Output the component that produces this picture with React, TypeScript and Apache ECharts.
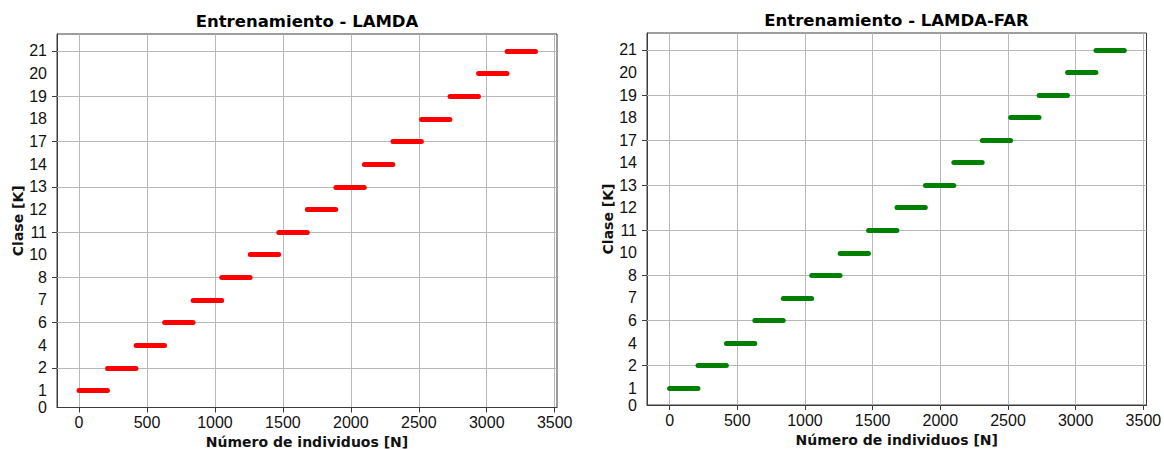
import { useEffect, useRef } from 'react';
import * as echarts from 'echarts';

// Class labels, bottom to top (one row each)
const classLabels = ['1', '2', '4', '6', '7', '8', '10', '11', '12', '13', '14', '17', '18', '19', '20', '21'];
// Label shown at the bottom edge of the class axis
const bottomLabel = '0';
// Classes whose rows carry a grid line and a tick
const gridClasses = ['2', '6', '8', '11', '13', '17', '19', '21'];
// First and last sample index of each class block
const segStart = [0, 210, 420, 630, 840, 1050, 1260, 1470, 1680, 1890, 2100, 2310, 2520, 2730, 2940, 3150];
const segEnd = [209, 419, 629, 839, 1049, 1259, 1469, 1679, 1889, 2099, 2309, 2519, 2729, 2939, 3149, 3359];
// Sample-axis ticks
const xTicks = [0, 500, 1000, 1500, 2000, 2500, 3000, 3500];

const panels = [
  {
    title: 'Entrenamiento - LAMDA',
    color: '#ff0000',
    grid: { left: 57, top: 34, width: 500, height: 373.5 },
    xMin: -162,
    xMax: 3517,
    titleX: 307,
    titleY: 21,
  },
  {
    title: 'Entrenamiento - LAMDA-FAR',
    color: '#008000',
    grid: { left: 647, top: 33, width: 499.5, height: 372 },
    xMin: -167,
    xMax: 3523,
    titleX: 896.5,
    titleY: 20,
  },
];

const AXIS_COLOR = '#3c3c3c';
const GRID_COLOR = '#b8b8b8';
const TEXT_COLOR = '#111111';

export default function App() {
  const ref = useRef<HTMLDivElement>(null);

  useEffect(() => {
    if (!ref.current) return;
    const chart = echarts.init(ref.current, undefined, { renderer: 'svg' });

    const rowPos = (label: string) => classLabels.indexOf(label) + 1;
    const yLabelValues = [0.25, ...classLabels.map((_, i) => i + 1)];
    const yTickValues = gridClasses.map(rowPos);

    // Horizontal grid lines only on the selected class rows
    const gridSeries = panels.map((_, i) => ({
      type: 'line',
      xAxisIndex: i,
      yAxisIndex: i,
      data: [],
      silent: true,
      z: 1,
      markLine: {
        silent: true,
        z: 1,
        symbol: ['none', 'none'],
        label: { show: false },
        lineStyle: { color: GRID_COLOR, width: 1, type: 'solid' },
        emphasis: { disabled: true },
        data: yTickValues.map((v) => ({ yAxis: v })),
      },
    }));

    const segmentSeries = panels.map((p, i) => ({
      type: 'lines',
      coordinateSystem: 'cartesian2d',
      xAxisIndex: i,
      yAxisIndex: i,
      silent: true,
      z: 10,
      data: classLabels.map((_, k) => ({
        coords: [
          [segStart[k], k + 1],
          [segEnd[k], k + 1],
        ],
      })),
      lineStyle: { color: p.color, width: 5, cap: 'round', opacity: 1 },
    }));

    const option: any = {
      animation: false,
      backgroundColor: '#ffffff',
      grid: panels.map((p) => ({
        ...p.grid,
        outerBoundsMode: 'none',
        containLabel: false,
        show: true,
        borderColor: AXIS_COLOR,
        borderWidth: 1,
        backgroundColor: 'transparent',
      })),
      xAxis: panels.map((p, i) => ({
        type: 'value',
        gridIndex: i,
        min: p.xMin,
        max: p.xMax,
        name: 'Número de individuos [N]',
        nameLocation: 'middle',
        nameGap: 26,
        nameTextStyle: {
          fontFamily: 'DejaVu Sans',
          fontWeight: 'bold',
          fontSize: 14,
          color: TEXT_COLOR,
        },
        axisLine: { show: true, onZero: false, lineStyle: { color: AXIS_COLOR, width: 1 } },
        axisTick: {
          show: true,
          length: 5,
          customValues: xTicks,
          lineStyle: { color: AXIS_COLOR },
        },
        axisLabel: {
          customValues: xTicks,
          margin: 7,
          fontFamily: 'Liberation Sans',
          fontSize: 16,
          color: TEXT_COLOR,
          formatter: (v: number) => String(v),
        },
        splitLine: { show: true, lineStyle: { color: GRID_COLOR, width: 1 } },
      })),
      yAxis: panels.map((p, i) => ({
        type: 'value',
        gridIndex: i,
        min: 0.25,
        max: classLabels.length + 0.75,
        name: 'Clase [K]',
        nameLocation: 'middle',
        nameGap: 32,
        nameTextStyle: {
          fontFamily: 'DejaVu Sans',
          fontWeight: 'bold',
          fontSize: 14,
          color: TEXT_COLOR,
        },
        axisLine: { show: true, onZero: false, lineStyle: { color: AXIS_COLOR, width: 1 } },
        axisTick: {
          show: true,
          length: 5,
          customValues: yTickValues,
          lineStyle: { color: AXIS_COLOR },
        },
        axisLabel: {
          customValues: yLabelValues,
          margin: 10,
          fontFamily: 'Liberation Sans',
          fontSize: 16,
          color: TEXT_COLOR,
          formatter: (v: number) => {
            if (v < 1) return bottomLabel;
            const idx = Math.round(v) - 1;
            return classLabels[idx] ?? '';
          },
        },
        splitLine: { show: false },
      })),
      graphic: panels.map((p) => ({
        type: 'text',
        x: p.titleX,
        y: p.titleY,
        silent: true,
        style: {
          text: p.title,
          fill: '#000000',
          fontFamily: 'DejaVu Sans',
          fontWeight: 'bold',
          fontSize: 16.5,
          align: 'center',
          verticalAlign: 'middle',
        },
      })),
      series: [...gridSeries, ...segmentSeries],
    };

    chart.setOption(option);
    return () => chart.dispose();
  }, []);

  return (
    <div
      ref={ref}
      style={{ position: 'fixed', left: 0, top: 0, width: 1164, height: 450, background: '#fff' }}
    />
  );
}
